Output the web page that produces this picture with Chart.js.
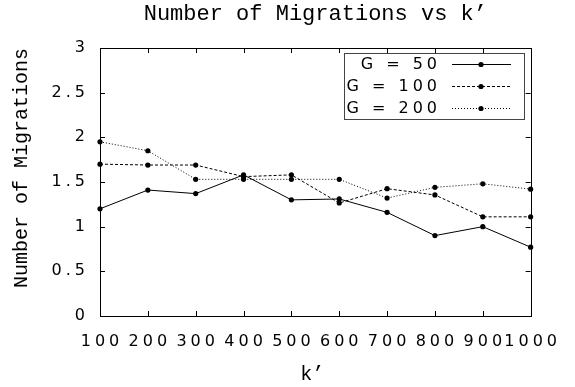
<!DOCTYPE html>
<html>
<head>
<meta charset="utf-8">
<script src="https://cdn.jsdelivr.net/npm/chart.js@4"></script>
<style>
  html, body { margin: 0; padding: 0; background: #fff; }
  #wrap { width: 575px; height: 387px; }
</style>
</head>
<body>
<div id="wrap"><canvas id="migrationsChart" width="575" height="387"></canvas></div>
<script>
// values
const kValues = ['100', '200', '300', '400', '500', '600', '700', '800', '900', '1000'];
const seriesLabels = ['G = 50', 'G = 100', 'G = 200'];
const g50 = [1.20, 1.41, 1.37, 1.58, 1.30, 1.31, 1.16, 0.90, 1.00, 0.77];
const g100 = [1.70, 1.69, 1.69, 1.56, 1.58, 1.265, 1.425, 1.355, 1.11, 1.11];
const g200 = [1.95, 1.85, 1.53, 1.53, 1.53, 1.53, 1.32, 1.44, 1.48, 1.42];

const chartTitle = "Number of Migrations vs k\u2019";
const xTitle = "k\u2019";
const yTitle = "Number of Migrations";

const dashes = [[], [3, 2], [1, 2]];

const spacing = '4px';

// canvas letterSpacing gets reset when chart.js resizes the canvas, so set it again before layout/draw
const spacingPlugin = {
    id: 'spacing',
    beforeLayout(chart) { chart.ctx.letterSpacing = spacing; },
    beforeDraw(chart) { chart.ctx.letterSpacing = spacing; }
};

// gnuplot style frame with inward ticks on every side, plus titles and legend
const framePlugin = {
    id: 'frame',
    afterDraw(chart) {
        const ctx = chart.ctx;
        const area = chart.chartArea;
        const xs = chart.scales.x;
        const ys = chart.scales.y;
        const tick = 5;

        ctx.save();
        ctx.letterSpacing = '0px';
        ctx.strokeStyle = '#000';
        ctx.lineWidth = 1;
        ctx.setLineDash([]);
        ctx.strokeRect(Math.round(area.left) + 0.5, Math.round(area.top) + 0.5,
            Math.round(area.right - area.left), Math.round(area.bottom - area.top));

        ctx.beginPath();
        ys.ticks.forEach((t, i) => {
            const y = Math.round(ys.getPixelForTick(i)) + 0.5;
            ctx.moveTo(area.left, y); ctx.lineTo(area.left + tick, y);
            ctx.moveTo(area.right, y); ctx.lineTo(area.right - tick, y);
        });
        xs.ticks.forEach((t, i) => {
            const x = Math.round(xs.getPixelForTick(i)) + 0.5;
            ctx.moveTo(x, area.bottom); ctx.lineTo(x, area.bottom - tick);
            ctx.moveTo(x, area.top); ctx.lineTo(x, area.top + tick);
        });
        ctx.stroke();

        // titles
        ctx.fillStyle = '#000';
        ctx.textAlign = 'center';
        ctx.textBaseline = 'alphabetic';
        ctx.font = '22px "Liberation Mono"';
        ctx.fillText(chartTitle, (area.left + area.right) / 2, 20);
        ctx.font = '20px "Liberation Mono"';
        ctx.fillText(xTitle, (area.left + area.right) / 2 - 3, 380);
        ctx.save();
        ctx.translate(27, 168);
        ctx.rotate(-Math.PI / 2);
        ctx.fillText(yTitle, 0, 0);
        ctx.restore();

        // legend
        const box = { left: 344, top: 53, right: 524, bottom: 119 };
        ctx.strokeStyle = '#444';
        ctx.strokeRect(box.left + 0.5, box.top + 0.5, box.right - box.left, box.bottom - box.top);
        const rowY = [64, 86, 108];
        ctx.font = '16px "DejaVu Sans"';
        ctx.letterSpacing = spacing;
        ctx.textAlign = 'right';
        ctx.textBaseline = 'middle';
        chart.data.datasets.forEach((ds, i) => {
            const y = rowY[i];
            ctx.fillStyle = '#000';
            ctx.fillText(ds.label, 441, y + 1);
            ctx.strokeStyle = '#000';
            ctx.setLineDash(ds.borderDash);
            ctx.beginPath();
            ctx.moveTo(452, y + 0.5);
            ctx.lineTo(511, y + 0.5);
            ctx.stroke();
            ctx.setLineDash([]);
            ctx.beginPath();
            ctx.arc(481, y + 0.5, 2.6, 0, Math.PI * 2);
            ctx.fill();
        });
        ctx.restore();
    }
};

const allSeries = [g50, g100, g200];

new Chart(document.getElementById('migrationsChart'), {
    type: 'line',
    data: {
        labels: kValues,
        datasets: allSeries.map((values, i) => ({
            label: seriesLabels[i],
            data: values,
            borderColor: '#000',
            backgroundColor: '#000',
            borderWidth: 1,
            borderDash: dashes[i],
            pointRadius: 2.6,
            pointBorderWidth: 0,
            pointBackgroundColor: '#000',
            tension: 0,
            fill: false
        }))
    },
    options: {
        responsive: false,
        animation: false,
        devicePixelRatio: 1,
        layout: { padding: { top: 48, right: 38, left: 0, bottom: 0 } },
        plugins: {
            legend: { display: false },
            title: { display: false },
            tooltip: { enabled: false }
        },
        scales: {
            x: {
                type: 'category',
                offset: false,
                grid: { display: false, drawTicks: false },
                border: { display: false },
                ticks: {
                    color: '#000',
                    font: { family: 'DejaVu Sans', size: 16 },
                    padding: 16,
                    labelOffset: 2,
                    maxRotation: 0,
                    autoSkip: false
                },
                afterFit(scale) { scale.height = 71; }
            },
            y: {
                min: 0,
                max: 3,
                grid: { display: false, drawTicks: false },
                border: { display: false },
                ticks: {
                    stepSize: 0.5,
                    color: '#000',
                    font: { family: 'DejaVu Sans', size: 16 },
                    padding: 11,
                    callback: (value) => String(value)
                },
                afterFit(scale) { scale.width = 100; }
            }
        }
    },
    plugins: [spacingPlugin, framePlugin]
});
</script>
</body>
</html>
